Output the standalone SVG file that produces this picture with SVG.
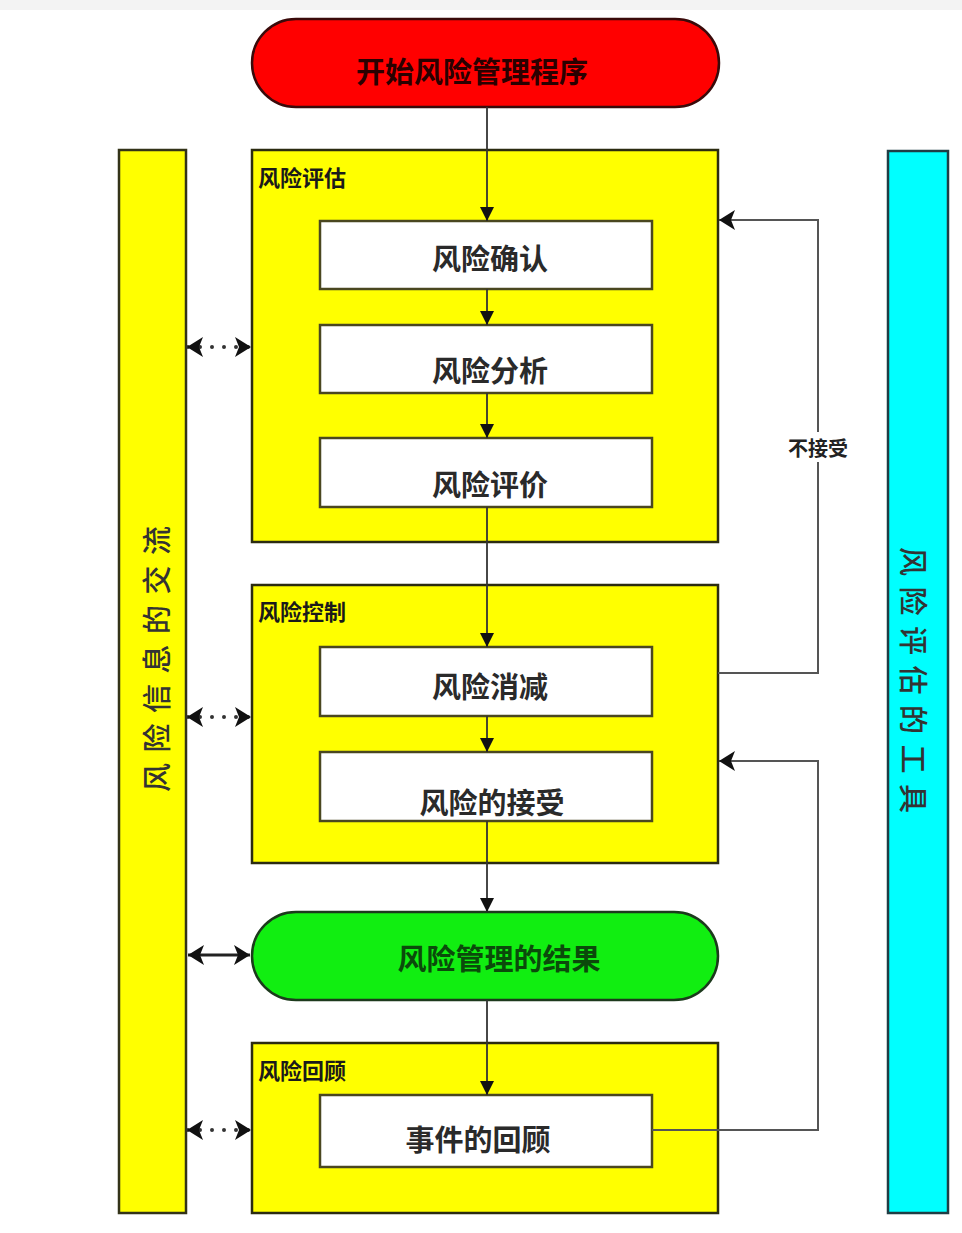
<svg xmlns="http://www.w3.org/2000/svg" width="962" height="1233" viewBox="0 0 962 1233">
<defs>
<style>
text{font-family:"Noto Sans CJK SC","Noto Sans",sans-serif;}
.grp{fill:#ffff00;stroke:#2b2b10;stroke-width:2.5;}
.box{fill:#ffffff;stroke:#4a4720;stroke-width:2.5;}
.bar{stroke-width:2.5;}
.lbl{font-size:22px;font-weight:bold;fill:#1a1a1a;}
.bt{font-size:29px;font-weight:bold;fill:#2a2a2a;text-anchor:middle;dominant-baseline:central;}
.vt{font-size:29px;font-weight:500;fill:#333;text-anchor:middle;dominant-baseline:central;}
.flow{fill:none;stroke:#333;stroke-width:1.8;}
.fb{fill:none;stroke:#555;stroke-width:2;}
.dbl{fill:none;stroke:#222;stroke-width:3;}
.dot{fill:none;stroke:#333;stroke-width:4;stroke-linecap:round;stroke-dasharray:0 12;}
</style>
<marker id="ah" viewBox="0 0 14 14" refX="14" refY="7" markerWidth="14" markerHeight="14" markerUnits="userSpaceOnUse" orient="auto-start-reverse">
<path d="M0,0 L14,7 L0,14 z" fill="#111"/>
</marker>
<marker id="ahb" viewBox="0 0 16 20" refX="16" refY="10" markerWidth="16" markerHeight="20" markerUnits="userSpaceOnUse" orient="auto-start-reverse">
<path d="M0,0 L16,10 L0,20 L4,10 z" fill="#111"/>
</marker>
</defs>
<rect x="0" y="0" width="962" height="1233" fill="#ffffff"/>
<rect x="0" y="0" width="962" height="10" fill="#f3f3f3"/>

<g id="comm-bar">
<rect class="bar" x="119" y="150" width="67" height="1063" fill="#ffff00" stroke="#333318"/>
<text class="vt" transform="translate(155,659) rotate(-90)" textLength="266" lengthAdjust="spacing">风险信息的交流</text>
</g>
<g id="tools-bar">
<rect class="bar" x="888" y="151" width="60" height="1062" fill="#00ffff" stroke="#1f3d44"/>
<text class="vt" transform="translate(915,680) rotate(90)" textLength="266" lengthAdjust="spacing">风险评估的工具</text>
</g>

<g id="start">
<rect x="252" y="19" width="467" height="88" rx="44" ry="44" fill="#ff0000" stroke="#3a0a0a" stroke-width="2.5"/>
<text class="bt" x="472" y="70" style="fill:#2a0000">开始风险管理程序</text>
</g>

<g id="assessment">
<rect class="grp" x="252" y="150" width="466" height="392"/>
<text class="lbl" x="258" y="186">风险评估</text>
</g>
<g id="identify">
<rect class="box" x="320" y="221" width="332" height="68"/>
<text class="bt" x="490" y="257">风险确认</text>
</g>
<g id="analysis">
<rect class="box" x="320" y="325" width="332" height="68"/>
<text class="bt" x="490" y="369">风险分析</text>
</g>
<g id="evaluation">
<rect class="box" x="320" y="438" width="332" height="69"/>
<text class="bt" x="490" y="483">风险评价</text>
</g>

<g id="control">
<rect class="grp" x="252" y="585" width="466" height="278"/>
<text class="lbl" x="258" y="620">风险控制</text>
</g>
<g id="reduction">
<rect class="box" x="320" y="647" width="332" height="69"/>
<text class="bt" x="490" y="685">风险消减</text>
</g>
<g id="acceptance">
<rect class="box" x="320" y="752" width="332" height="69"/>
<text class="bt" x="492" y="801">风险的接受</text>
</g>

<g id="result">
<rect x="252" y="912" width="466" height="88" rx="44" ry="44" fill="#11ee11" stroke="#1c3a1c" stroke-width="2.5"/>
<text class="bt" x="499" y="957" style="fill:#0b4a0b">风险管理的结果</text>
</g>

<g id="review">
<rect class="grp" x="252" y="1043" width="466" height="170"/>
<text class="lbl" x="258" y="1079">风险回顾</text>
</g>
<g id="event-review">
<rect class="box" x="320" y="1095" width="332" height="72"/>
<text class="bt" x="478" y="1138">事件的回顾</text>
</g>

<g id="connectors">
<path class="flow" d="M487,107 V221" marker-end="url(#ah)"/>
<path class="flow" d="M487,289 V325" marker-end="url(#ah)"/>
<path class="flow" d="M487,393 V438" marker-end="url(#ah)"/>
<path class="flow" d="M487,507 V647" marker-end="url(#ah)"/>
<path class="flow" d="M487,716 V752" marker-end="url(#ah)"/>
<path class="flow" d="M487,821 V912" marker-end="url(#ah)"/>
<path class="flow" d="M487,1000 V1095" marker-end="url(#ah)"/>

<path class="fb" d="M718,673 H818 V220 H719" marker-end="url(#ahb)"/>
<path class="fb" d="M652,1130 H818 V761 H719" marker-end="url(#ahb)"/>

<path class="dot" d="M188,347 H250"/>
<path d="M187,347 H251" fill="none" stroke="none" marker-start="url(#ahb)" marker-end="url(#ahb)"/>
<path class="dot" d="M188,717 H250"/>
<path d="M187,717 H251" fill="none" stroke="none" marker-start="url(#ahb)" marker-end="url(#ahb)"/>
<path class="dot" d="M188,1130 H250"/>
<path d="M187,1130 H251" fill="none" stroke="none" marker-start="url(#ahb)" marker-end="url(#ahb)"/>
<path class="dbl" d="M188,955 H250" marker-start="url(#ahb)" marker-end="url(#ahb)"/>

<rect x="790" y="432" width="56" height="30" fill="#ffffff"/>
<text x="818" y="447" style="font-size:20px;font-weight:bold;fill:#222;text-anchor:middle;dominant-baseline:central">不接受</text>
</g>
</svg>
